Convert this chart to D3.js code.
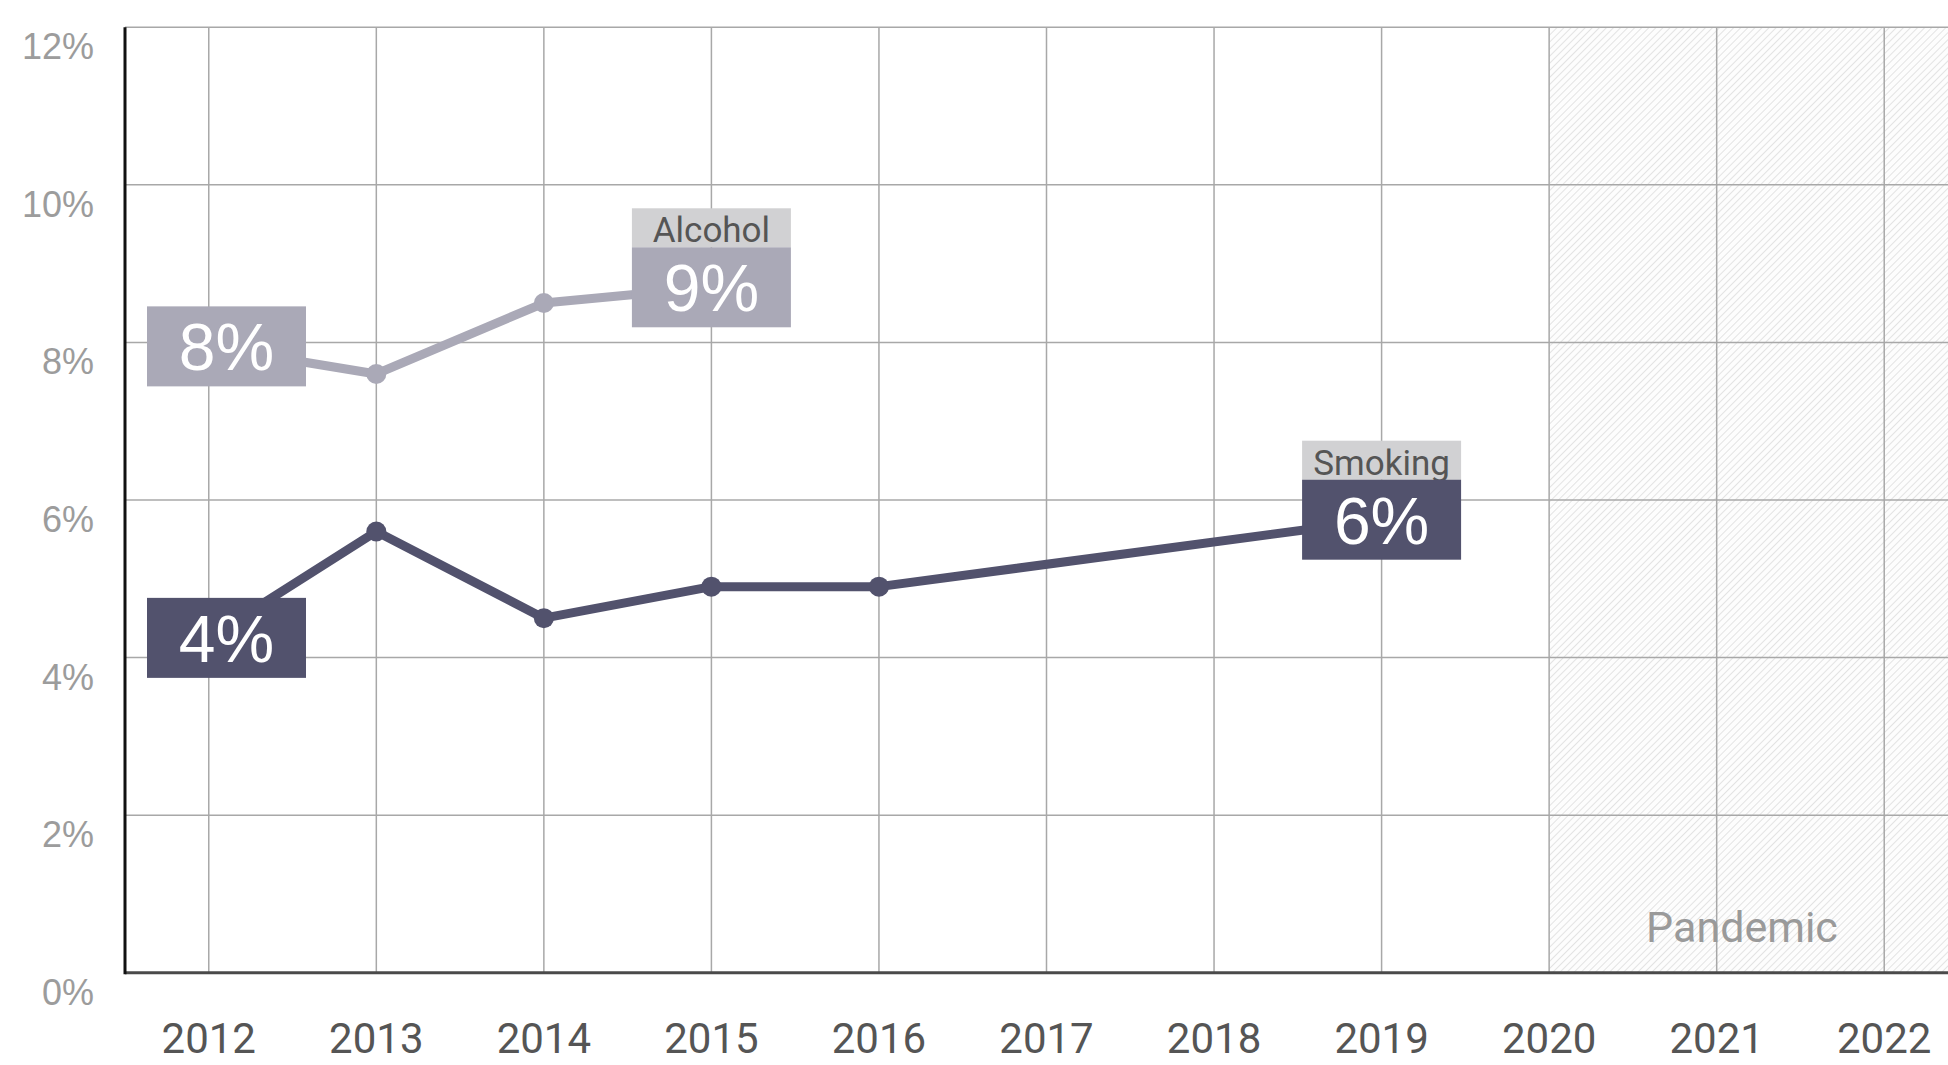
<!DOCTYPE html>
<html>
<head>
<meta charset="utf-8">
<script src="https://cdn.jsdelivr.net/npm/d3@7"></script>
<style>
  html, body { margin: 0; padding: 0; background: #fff; overflow: hidden; }
  svg { display: block; }
</style>
</head>
<body>
<svg id="chart" width="1948" height="1065"></svg>
<script>
// ---- data ----
const years = [2012, 2013, 2014, 2015, 2016, 2017, 2018, 2019, 2020, 2021, 2022];
const yTicks = [0, 2, 4, 6, 8, 10, 12];
const alcoholYears = [2012, 2013, 2014, 2015];
const alcoholValues = [7.95, 7.6, 8.5, 8.7];
const smokingYears = [2012, 2013, 2014, 2015, 2016, 2019];
const smokingValues = [4.25, 5.6, 4.5, 4.9, 4.9, 5.75];
const seriesNames = ["Alcohol", "Smoking"];
const seriesColors = ["#aaa9b7", "#52526d"];
const pandemicStart = 2020;
const pandemicLabel = "Pandemic";

// ---- layout ----
const svg = d3.select("#chart");
const plotL = 125, plotR = 1968, plotT = 27.3, plotB = 972.7;

const x = d3.scalePoint().domain(years).range([plotL, plotR]).padding(0.5);
const y = d3.scaleLinear().domain([0, 12]).range([plotB, plotT]);

// hatch pattern
const defs = svg.append("defs");
const pat = defs.append("pattern")
  .attr("id", "hatch")
  .attr("patternUnits", "userSpaceOnUse")
  .attr("width", 5).attr("height", 5)
  .attr("patternTransform", "rotate(45)");
pat.append("rect").attr("width", 5).attr("height", 5).attr("fill", "#fdfdfd");
pat.append("line").attr("x1", 0).attr("y1", 0).attr("x2", 0).attr("y2", 5)
  .attr("stroke", "#d6d6d6").attr("stroke-width", 1.3);

// pandemic region
svg.append("rect")
  .attr("x", x(pandemicStart)).attr("y", plotT)
  .attr("width", plotR - x(pandemicStart)).attr("height", plotB - plotT)
  .attr("fill", "url(#hatch)");

// grid
svg.append("g").selectAll("line").data(yTicks).join("line")
  .attr("x1", plotL).attr("x2", plotR)
  .attr("y1", d => y(d)).attr("y2", d => y(d))
  .attr("stroke", "#a8a8a8").attr("stroke-width", 1.5);

svg.append("g").selectAll("line").data(years).join("line")
  .attr("x1", d => x(d)).attr("x2", d => x(d))
  .attr("y1", plotT).attr("y2", plotB)
  .attr("stroke", "#a8a8a8").attr("stroke-width", 1.5);

// pandemic label
svg.append("text")
  .attr("x", 1742).attr("y", 942)
  .attr("text-anchor", "middle")
  .attr("font-family", "Roboto, 'Noto Sans', sans-serif")
  .attr("font-size", 43)
  .attr("fill", "#9a9a9a")
  .text(pandemicLabel);

// axes lines
svg.append("line")
  .attr("x1", plotL).attr("x2", plotR)
  .attr("y1", plotB).attr("y2", plotB)
  .attr("stroke", "#4a4a4a").attr("stroke-width", 3);
svg.append("line")
  .attr("x1", plotL).attr("x2", plotL)
  .attr("y1", plotT).attr("y2", plotB + 1.5)
  .attr("stroke", "#111").attr("stroke-width", 3);

// y tick labels
svg.append("g").selectAll("text").data(yTicks).join("text")
  .attr("x", 94).attr("y", d => y(d) + 32)
  .attr("text-anchor", "end")
  .attr("font-family", "'Liberation Sans', Arial, sans-serif")
  .attr("font-size", 36)
  .attr("fill", "#9c9c9c")
  .text(d => d + "%");

// x tick labels
svg.append("g").selectAll("text").data(years).join("text")
  .attr("x", d => x(d)).attr("y", 1053)
  .attr("text-anchor", "middle")
  .attr("font-family", "Roboto, 'Noto Sans', sans-serif")
  .attr("font-size", 42)
  .attr("fill", "#555")
  .text(d => d);

// series
const series = [
  { name: seriesNames[0], color: seriesColors[0], data: alcoholYears.map((yr, i) => ({ yr, v: alcoholValues[i] })) },
  { name: seriesNames[1], color: seriesColors[1], data: smokingYears.map((yr, i) => ({ yr, v: smokingValues[i] })) }
];

const line = d3.line().x(d => x(d.yr)).y(d => y(d.v));

series.forEach(s => {
  const g = svg.append("g");
  g.append("path").datum(s.data)
    .attr("d", line)
    .attr("fill", "none")
    .attr("stroke", s.color)
    .attr("stroke-width", 9)
    .attr("stroke-linejoin", "round");
  g.selectAll("circle").data(s.data).join("circle")
    .attr("cx", d => x(d.yr)).attr("cy", d => y(d.v))
    .attr("r", 10)
    .attr("fill", s.color);
});

// labels
const boxW = 159, boxH = 80, nameH = 39, edgeGap = 22;
function valueBox(s, d, withName) {
  const cx = Math.max(x(d.yr), plotL + edgeGap + boxW / 2), cy = y(d.v);
  const g = svg.append("g");
  if (withName) {
    g.append("rect")
      .attr("x", cx - boxW / 2).attr("y", cy - boxH / 2 - nameH)
      .attr("width", boxW).attr("height", nameH)
      .attr("fill", "#d1d1d3");
    g.append("text")
      .attr("x", cx).attr("y", cy - boxH / 2 - nameH + 34)
      .attr("text-anchor", "middle")
      .attr("font-family", "Roboto, 'Noto Sans', sans-serif")
      .attr("font-size", 35)
      .attr("fill", "#555")
      .text(s.name);
  }
  g.append("rect")
    .attr("x", cx - boxW / 2).attr("y", cy - boxH / 2)
    .attr("width", boxW).attr("height", boxH)
    .attr("fill", s.color);
  g.append("text")
    .attr("x", cx).attr("y", cy + 24)
    .attr("text-anchor", "middle")
    .attr("font-family", "'Liberation Sans', Arial, sans-serif")
    .attr("font-size", 66)
    .attr("fill", "#fff")
    .text(Math.round(d.v) + "%");
}

series.forEach(s => {
  valueBox(s, s.data[0], false);
  valueBox(s, s.data[s.data.length - 1], true);
});
</script>
</body>
</html>
